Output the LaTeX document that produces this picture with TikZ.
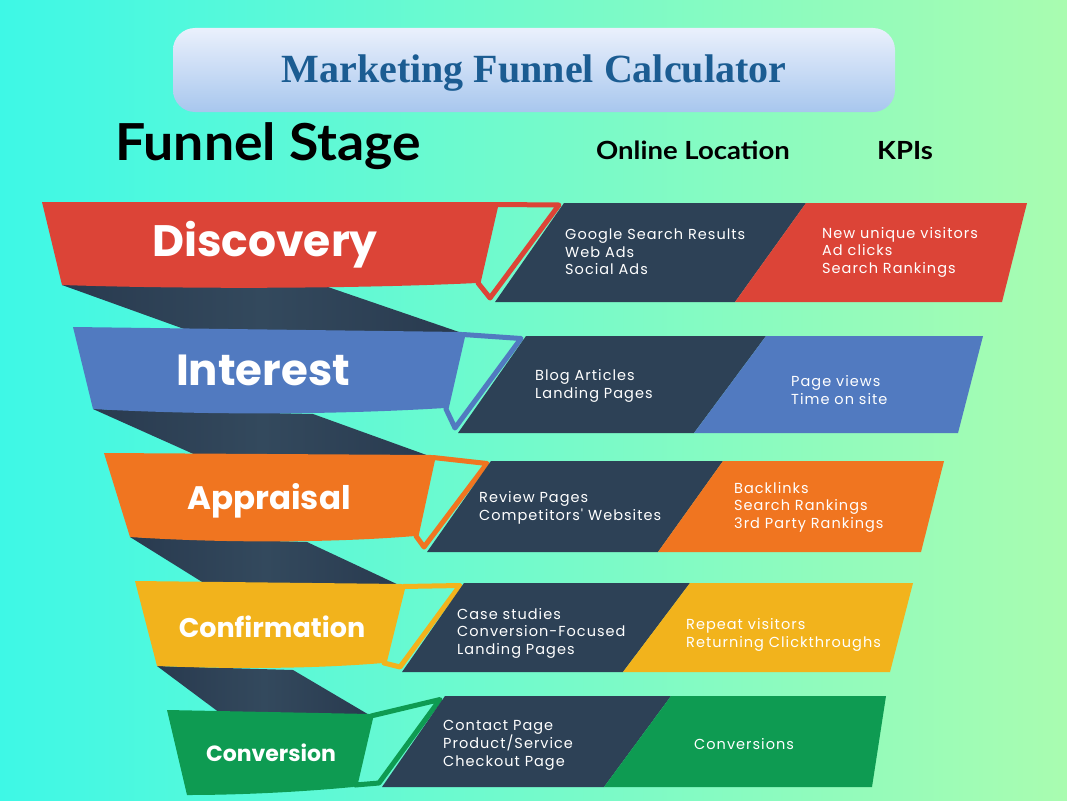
\documentclass[tikz,border=0pt]{standalone}
\usepackage{fontspec}
\setmainfont{Liberation Serif}
\newfontfamily\titlefont{Liberation Serif}
\newfontfamily\headfont{Lato}
\newfontfamily\bannerfont{Poppins}
\newfontfamily\bodyfont[LetterSpace=7]{Poppins}
\definecolor{bgL}{HTML}{3EF8E6}
\definecolor{bgR}{HTML}{A9FCB0}
\definecolor{tTop}{HTML}{EAF0FC}
\definecolor{tBot}{HTML}{A8C7EE}
\definecolor{titleC}{HTML}{1B5C92}
\definecolor{cRed}{HTML}{DC4437}
\definecolor{cBlue}{HTML}{517AC0}
\definecolor{cOrange}{HTML}{F07520}
\definecolor{cYellow}{HTML}{F2B31C}
\definecolor{cGreen}{HTML}{0E9B52}
\definecolor{cDark}{HTML}{2D4156}
\definecolor{cDarkA}{HTML}{293A4F}
\definecolor{cDarkB}{HTML}{33495D}
\tikzset{
  twist/.style={left color=cDarkA, right color=cDarkA, middle color=cDarkB},
  hollow/.style={draw=#1, line width=5pt, line join=round},
  darkbox/.style={fill=cDark},
  bannerlbl/.style={anchor=base, text=white, inner sep=0pt},
  bodytxt/.style={anchor=west, align=left, text=white, inner sep=0pt,
    font=\bodyfont\fontsize{14.5}{17.5}\selectfont},
  headlbl/.style={anchor=base, text=black, inner sep=0pt}
}
\begin{document}
\begin{tikzpicture}[x=1pt, y=-1pt]
\useasboundingbox (0,0) rectangle (1067,800);
\shade[left color=bgL, right color=bgR] (0,0) rectangle (1067,800);

% title
\shade[top color=tTop, bottom color=tBot, rounded corners=22pt] (173,28) rectangle (895,112);
\node[font=\titlefont\bfseries\fontsize{40}{44}\selectfont, text=titleC, anchor=base] (title) at (534,82) {Marketing Funnel Calculator};

% headers
\node[headlbl, font=\headfont\bfseries\fontsize{51}{54}\selectfont] (hstage) at (268,160) {\scalebox{1.05}[1]{Funnel Stage}};
\node[headlbl, font=\headfont\bfseries\fontsize{25}{28}\selectfont] (honline) at (693,159) {\scalebox{1.1}[1]{Online Location}};
\node[headlbl, font=\headfont\bfseries\fontsize{25}{28}\selectfont] (hkpi) at (905,159) {\scalebox{1.1}[1]{KPIs}};

% twisted back faces of the funnel
\shade[twist] (62,285) -- (187,330) -- (462,333) -- (325,286) -- cycle;
\shade[twist] (93,409) -- (198,456) -- (432,457) -- (313,414) -- cycle;
\shade[twist] (130,537) -- (207,585) -- (401,586) -- (307,542) -- cycle;
\shade[twist] (157,666) -- (220,713) -- (371,716) -- (293,670) -- cycle;

% ---------- Discovery ----------
\fill[cRed] (42,202) -- (496,202) -- (477,283) .. controls (350,289) and (180,289) .. (62,285) -- cycle;
\draw[hollow=cRed] (496,204.5) -- (559,205) -- (490,298) -- (478,283) -- cycle;
\fill[darkbox] (495,302) -- (564,203) -- (806,203) -- (735,302) -- cycle;
\fill[cRed] (735,302) -- (806,203) -- (1027,203) -- (1002,302) -- cycle;
\node[bannerlbl, font=\bannerfont\bfseries\fontsize{44}{48}\selectfont] (discovery) at (265,256) {Discovery};
\node[bodytxt] (on1) at (565,252) {Google Search Results\\Web Ads\\Social Ads};
\node[bodytxt] (kpi1) at (822,252) {New unique visitors\\Ad clicks\\Search Rankings};

% ---------- Interest ----------
\fill[cBlue] (73,327) -- (462,332) -- (445,408) .. controls (330,415) and (200,415) .. (93,409) -- cycle;
\draw[hollow=cBlue] (463,334.5) -- (521,338.5) -- (455,428) -- (446,409) -- cycle;
\fill[darkbox] (458,433) -- (526,336) -- (766,336) -- (694,433) -- cycle;
\fill[cBlue] (694,433) -- (766,336) -- (983,336) -- (958,433) -- cycle;
\node[bannerlbl, font=\bannerfont\bfseries\fontsize{43.5}{48}\selectfont] (interest) at (263,385) {Interest};
\node[bodytxt] (on2) at (535,386) {Blog Articles\\Landing Pages};
\node[bodytxt] (kpi2) at (791,390) {Page views\\Time on site};

% ---------- Appraisal ----------
\fill[cOrange] (104,453) -- (432,455) -- (415,536) .. controls (330,543) and (220,543) .. (130,537) -- cycle;
\draw[hollow=cOrange] (433,457.5) -- (487,463.5) -- (424,547) -- (416,536) -- cycle;
\fill[darkbox] (427,552) -- (491,461) -- (723,461) -- (658,552) -- cycle;
\fill[cOrange] (658,552) -- (723,461) -- (944,461) -- (921,552) -- cycle;
\node[bannerlbl, font=\bannerfont\bfseries\fontsize{32.5}{36}\selectfont] (appraisal) at (269,509) {Appraisal};
\node[bodytxt] (on3) at (479,508) {Review Pages\\Competitors' Websites};
\node[bodytxt] (kpi3) at (734,507) {Backlinks\\Search Rankings\\3rd Party Rankings};

% ---------- Confirmation ----------
\fill[cYellow] (135,581) -- (402,584) -- (383,663) .. controls (310,669) and (230,669) .. (157,666) -- cycle;
\draw[hollow=cYellow] (403,586.5) -- (460,585.5) -- (400,667) -- (384,663) -- cycle;
\fill[darkbox] (402,672) -- (464,583) -- (690,583) -- (623,672) -- cycle;
\fill[cYellow] (623,672) -- (690,583) -- (913,583) -- (890,672) -- cycle;
\node[bannerlbl, font=\bannerfont\bfseries\fontsize{27}{30}\selectfont] (confirmation) at (272,637) {Confirmation};
\node[bodytxt] (on4) at (457,633) {Case studies\\Conversion-Focused\\Landing Pages};
\node[bodytxt] (kpi4) at (686,635) {Repeat visitors\\Returning Clickthroughs};

% ---------- Conversion ----------
\fill[cGreen] (167,710) -- (370,714) -- (353,787) .. controls (300,792) and (240,795) .. (187,795) -- cycle;
\draw[hollow=cGreen] (371,716) -- (440,699.5) -- (379,783) -- (355,785) -- cycle;
\fill[darkbox] (382,787) -- (445,696) -- (671,696) -- (604,787) -- cycle;
\fill[cGreen] (604,787) -- (671,696) -- (886,696) -- (872,787) -- cycle;
\node[bannerlbl, font=\bannerfont\bfseries\fontsize{22}{26}\selectfont] (conversion) at (271,761) {Conversion};
\node[bodytxt] (on5) at (443,745) {Contact Page\\Product/Service\\Checkout Page};
\node[bodytxt] (kpi5) at (694,744) {Conversions};
\end{tikzpicture}
\end{document}
